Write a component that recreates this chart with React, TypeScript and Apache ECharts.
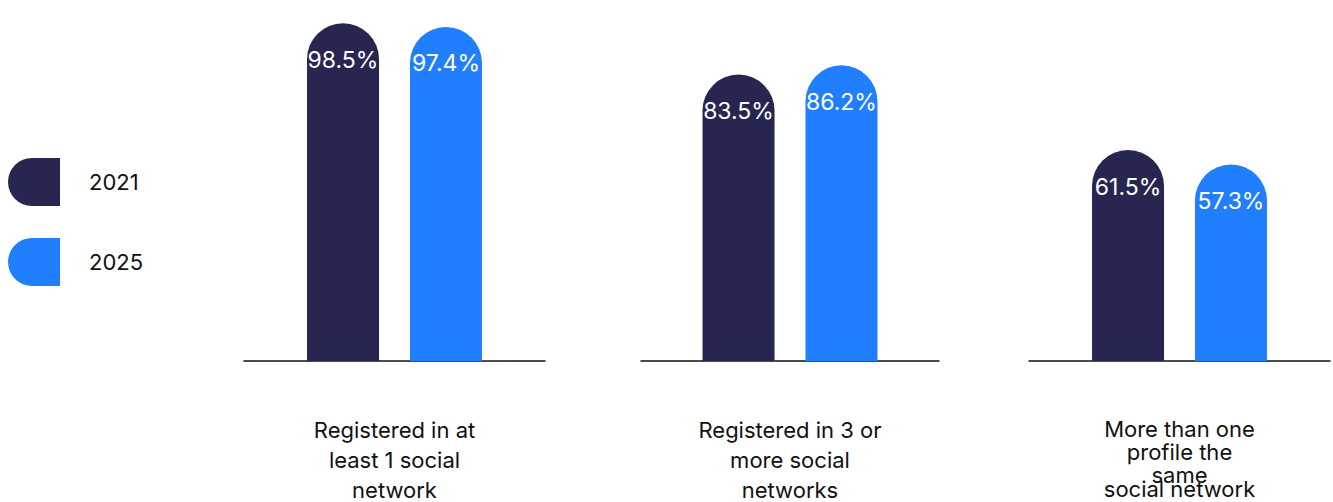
import React, { useEffect, useRef } from "react";
import * as echarts from "echarts";

const categories = [
  "Registered in at\nleast 1 social\nnetwork",
  "Registered in 3 or\nmore social\nnetworks",
  "More than one\nprofile the\nsame\nsocial network",
];
const seriesNames = ["2021", "2025"];
const values2021 = [98.5, 83.5, 61.5];
const values2025 = [97.4, 86.2, 57.3];
const colors = ["#262651", "#207EFF"];

const gridLefts = [244, 641, 1029];
const gridWidths = [301, 298, 301];
const FONT = "Inter, 'Noto Sans', sans-serif";

export default function App() {
  const ref = useRef<HTMLDivElement>(null);
  useEffect(() => {
    if (!ref.current) return;
    const chart = echarts.init(ref.current, undefined, { renderer: "svg" });
    const grids = gridLefts.map((l, i) => ({
      left: l,
      width: gridWidths[i],
      top: 18,
      height: 343,
      containLabel: false,
      outerBoundsMode: "none",
    }));
    const xAxes = categories.map((c, i) => {
      const last = i === 2;
      return {
        type: "category",
        gridIndex: i,
        data: [c],
        axisLine: { show: true, lineStyle: { color: "#111", width: 1.5 } },
        axisTick: { show: false },
        axisLabel: {
          interval: 0,
          margin: last ? 56 : 54,
          fontSize: 22,
          fontFamily: FONT,
          color: "#111",
          lineHeight: last ? 23 : 30,
          formatter: last
            ? (v: string) => {
                const lines = v.split("\n");
                const tail = lines.pop();
                return lines.join("\n") + "\n{s|" + tail + "}";
              }
            : undefined,
          rich: last ? { s: { fontSize: 22, fontFamily: FONT, color: "#111", lineHeight: 5 } } : undefined,
        },
      };
    });
    const yAxes = categories.map((_, i) => ({
      type: "value",
      gridIndex: i,
      min: 0,
      max: 100,
      show: false,
      splitLine: { show: false },
    }));
    const series: any[] = [];
    categories.forEach((_, i) => {
      [values2021, values2025].forEach((vals, s) => {
        series.push({
          type: "bar",
          name: seriesNames[s],
          xAxisIndex: i,
          yAxisIndex: i,
          data: [vals[i]],
          barWidth: 72,
          barGap: "43%",
          itemStyle: { color: colors[s], borderRadius: [36, 36, 0, 0] },
          label: {
            show: true,
            position: "insideTop",
            distance: 25,
            color: "#fff",
            fontSize: 23,
            fontFamily: FONT,
            formatter: "{c}%",
          },
        });
      });
    });
    chart.setOption({
      animation: false,
      color: colors,
      grid: grids,
      xAxis: xAxes,
      yAxis: yAxes,
      legend: {
        orient: "vertical",
        left: 8,
        top: 158,
        padding: 0,
        itemWidth: 52,
        itemHeight: 48,
        itemGap: 32,
        selectedMode: false,
        icon: "path://M24,0L52,0L52,48L24,48A24,24,0,0,1,24,0Z",
        data: seriesNames,
        textStyle: { fontSize: 22, fontFamily: FONT, color: "#111", padding: [4, 0, 0, 24] },
      },
      series,
    });
    return () => chart.dispose();
  }, []);
  return (
    <div
      ref={ref}
      style={{ position: "absolute", left: 0, top: 0, width: 1333, height: 502, background: "#fff" }}
    />
  );
}
